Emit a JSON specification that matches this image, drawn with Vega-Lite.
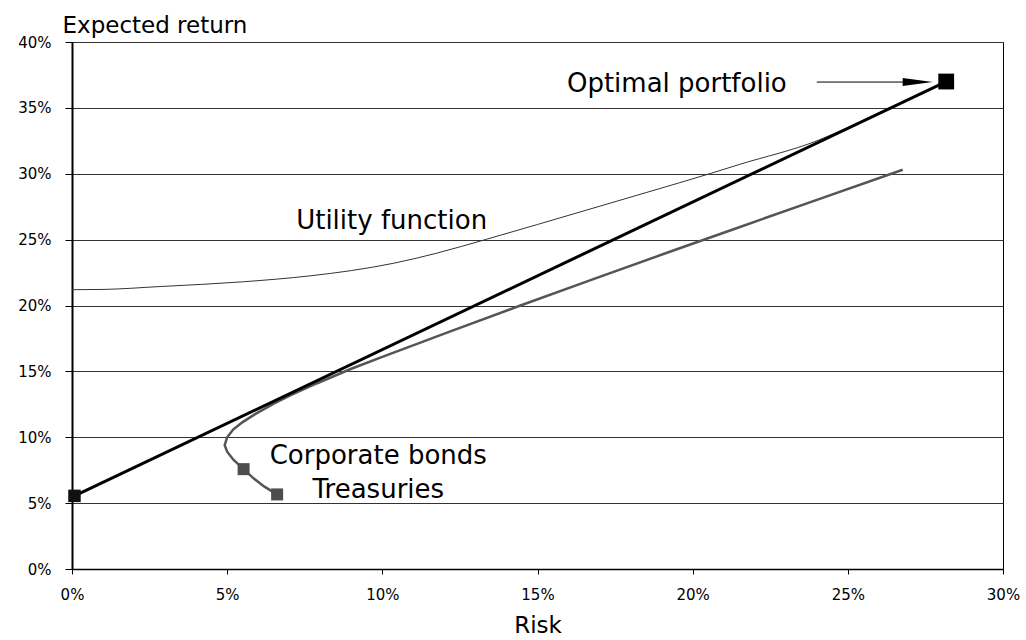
{
  "$schema": "https://vega.github.io/schema/vega-lite/v6.json",
  "autosize": {"type": "none"},
  "padding": {"left": 72, "top": 42, "right": 23, "bottom": 71},
  "width": 931,
  "height": 527,
  "background": "white",
  "config": {
    "font": "DejaVu Sans",
    "view": {"stroke": "#000", "strokeWidth": 1},
    "axis": {"labelFont": "DejaVu Sans", "titleFont": "DejaVu Sans", "labelColor": "#000", "titleColor": "#000", "titleFontWeight": "normal", "domainColor": "#000", "tickColor": "#000"}
  },
  "datasets": {
    "cml": [{"risk": 0.08, "ret": 5.55}, {"risk": 28.17, "ret": 37.0}],
    "frontier": [
      {"i": 1, "risk": 6.61, "ret": 5.66},
      {"i": 2, "risk": 6.2, "ret": 6.25},
      {"i": 3, "risk": 5.85, "ret": 6.88},
      {"i": 4, "risk": 5.53, "ret": 7.58},
      {"i": 5, "risk": 5.2, "ret": 8.3},
      {"i": 6, "risk": 5.0, "ret": 8.9},
      {"i": 7, "risk": 4.92, "ret": 9.4},
      {"i": 8, "risk": 5.0, "ret": 10.0},
      {"i": 9, "risk": 5.2, "ret": 10.6},
      {"i": 10, "risk": 5.5, "ret": 11.15},
      {"i": 11, "risk": 5.9, "ret": 11.75},
      {"i": 12, "risk": 6.5, "ret": 12.55},
      {"i": 13, "risk": 7.1, "ret": 13.25},
      {"i": 14, "risk": 7.9, "ret": 14.1},
      {"i": 15, "risk": 9.0, "ret": 15.2},
      {"i": 16, "risk": 10.0, "ret": 16.1},
      {"i": 17, "risk": 12.15, "ret": 18.0},
      {"i": 18, "risk": 14.45, "ret": 20.0},
      {"i": 19, "risk": 16.8, "ret": 22.0},
      {"i": 20, "risk": 19.17, "ret": 24.0},
      {"i": 21, "risk": 21.57, "ret": 26.0},
      {"i": 22, "risk": 23.98, "ret": 28.0},
      {"i": 23, "risk": 26.77, "ret": 30.3}
    ],
    "utility": [
      {"risk": 0.0, "ret": 21.2},
      {"risk": 1.0, "ret": 21.22},
      {"risk": 2.84, "ret": 21.44},
      {"risk": 5.52, "ret": 21.8},
      {"risk": 7.67, "ret": 22.25},
      {"risk": 9.0, "ret": 22.65},
      {"risk": 10.35, "ret": 23.2},
      {"risk": 11.75, "ret": 23.97},
      {"risk": 13.36, "ret": 25.03},
      {"risk": 15.0, "ret": 26.15},
      {"risk": 18.5, "ret": 28.57},
      {"risk": 20.6, "ret": 30.04},
      {"risk": 21.5, "ret": 30.7},
      {"risk": 24.0, "ret": 32.5},
      {"risk": 24.8, "ret": 33.3},
      {"risk": 26.0, "ret": 34.62},
      {"risk": 27.0, "ret": 35.73},
      {"risk": 28.17, "ret": 37.0}
    ],
    "points": [
      {"name": "Risk-free", "risk": 0.08, "ret": 5.55},
      {"name": "Corporate bonds", "risk": 5.53, "ret": 7.58},
      {"name": "Treasuries", "risk": 6.61, "ret": 5.66},
      {"name": "Optimal portfolio", "risk": 28.17, "ret": 37.0}
    ],
    "arrow": [{"risk": 24.0, "risk2": 27.3, "ret": 36.96}],
    "arrowhead": [{"risk": 27.25, "ret": 36.96}],
    "labels": [
      {"text": "Optimal portfolio", "risk": 19.49, "ret": 36.24},
      {"text": "Utility function", "risk": 10.3, "ret": 25.82},
      {"text": "Corporate bonds", "risk": 9.87, "ret": 7.97},
      {"text": "Treasuries", "risk": 9.87, "ret": 5.39}
    ]
  },
  "encoding": {
    "x": {
      "field": "risk", "type": "quantitative",
      "scale": {"domain": [0, 30], "nice": false, "zero": false},
      "axis": {
        "title": "Risk", "titleFontSize": 23, "titleX": 465.5, "titleY": 63, "titleAnchor": "middle", "titleAlign": "center", "titleBaseline": "alphabetic",
        "values": [0, 5, 10, 15, 20, 25, 30], "labelExpr": "datum.value + '%'",
        "labelFontSize": 15, "labelPadding": 13, "tickSize": 5, "tickWidth": 1, "domainWidth": 1.5, "grid": false, "labelFlush": false
      }
    },
    "y": {
      "field": "ret", "type": "quantitative",
      "scale": {"domain": [0, 40], "nice": false, "zero": false},
      "axis": {
        "title": "Expected return", "titleFontSize": 23, "titleAngle": 0, "titleX": -10, "titleY": -10, "titleAlign": "left", "titleBaseline": "alphabetic", "titleAnchor": null,
        "values": [0, 5, 10, 15, 20, 25, 30, 35, 40], "labelExpr": "datum.value + '%'",
        "labelFontSize": 15, "labelPadding": 14, "tickSize": 7, "tickWidth": 1, "domainWidth": 2, "grid": true, "gridColor": "#333", "gridWidth": 1, "gridOpacity": 1, "labelFlush": false
      }
    }
  },
  "layer": [
    {
      "data": {"name": "utility"},
      "mark": {"type": "line", "color": "#333", "strokeWidth": 1, "interpolate": "monotone"}
    },
    {
      "data": {"name": "frontier"},
      "mark": {"type": "line", "color": "#555", "strokeWidth": 2.5, "interpolate": "linear"},
      "encoding": {"order": {"field": "i", "type": "quantitative"}}
    },
    {
      "data": {"name": "cml"},
      "mark": {"type": "line", "color": "#000", "strokeWidth": 3}
    },
    {
      "data": {"name": "arrow"},
      "mark": {"type": "rule", "color": "#000", "strokeWidth": 1},
      "encoding": {"x2": {"field": "risk2"}}
    },
    {
      "data": {"name": "arrowhead"},
      "mark": {"type": "point", "shape": "M-1,-0.27L1,0L-1,0.27Z", "filled": true, "color": "#000", "size": 900, "opacity": 1, "strokeWidth": 0}
    },
    {
      "data": {"name": "points"},
      "transform": [{"filter": "datum.name === 'Risk-free'"}],
      "mark": {"type": "square", "filled": true, "color": "#111", "size": 156, "opacity": 1, "strokeWidth": 0}
    },
    {
      "data": {"name": "points"},
      "transform": [{"filter": "datum.name === 'Optimal portfolio'"}],
      "mark": {"type": "square", "filled": true, "color": "#000", "size": 250, "opacity": 1, "strokeWidth": 0}
    },
    {
      "data": {"name": "points"},
      "transform": [{"filter": "datum.name === 'Corporate bonds' || datum.name === 'Treasuries'"}],
      "mark": {"type": "square", "filled": true, "color": "#4d4d4d", "size": 144, "opacity": 1, "strokeWidth": 0}
    },
    {
      "data": {"name": "labels"},
      "mark": {"type": "text", "fontSize": 26, "font": "DejaVu Sans", "color": "#000", "align": "center", "baseline": "alphabetic"},
      "encoding": {"text": {"field": "text"}}
    }
  ]
}
